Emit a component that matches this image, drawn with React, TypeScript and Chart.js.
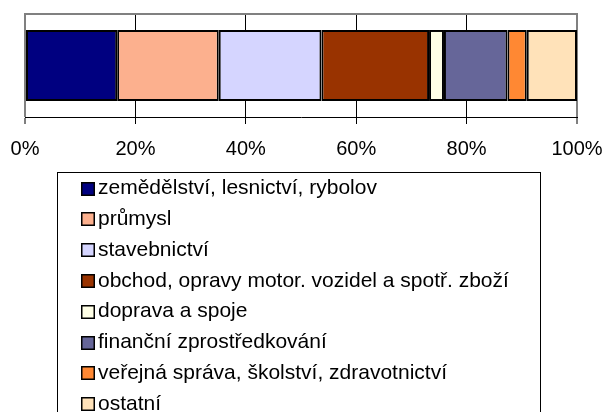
import React, { useEffect, useRef } from 'react';
import { Chart, registerables } from 'chart.js';

Chart.register(...registerables);

const categories = [''];
const seriesLabels = [
  'zemědělství, lesnictví, rybolov',
  'průmysl',
  'stavebnictví',
  'obchod, opravy motor. vozidel a spotř. zboží',
  'doprava a spoje',
  'finanční zprostředkování',
  'veřejná správa, školství, zdravotnictví',
  'ostatní',
];
const seriesValues = [16.7, 18.4, 18.6, 19.5, 2.7, 11.5, 3.5, 9.1];
const seriesColors = ['#000080', '#FCB08E', '#D5D5FF', '#993300', '#FFFFE6', '#666699', '#FF8833', '#FFE2B9'];
const tickStep = 20;
const tickMax = 100;

const FONT = '"Liberation Sans", Arial, sans-serif';

const boxLegend = {
  id: 'boxLegend',
  afterDraw(chart: any) {
    const ctx = chart.ctx;
    ctx.save();
    ctx.strokeStyle = '#000';
    ctx.lineWidth = 1;
    ctx.strokeRect(57.5, 172.5, 483, 270);
    ctx.font = `21px ${FONT}`;
    ctx.textBaseline = 'middle';
    ctx.textAlign = 'left';
    chart.data.datasets.forEach((ds: any, i: number) => {
      const y = 188.5 + i * 30.8;
      const top = Math.round(y - 7);
      ctx.fillStyle = ds.backgroundColor;
      ctx.fillRect(81, top, 14, 14);
      ctx.strokeStyle = '#000';
      ctx.lineWidth = 1.5;
      ctx.strokeRect(81.75, top + 0.75, 12.5, 12.5);
      ctx.fillStyle = '#000';
      ctx.fillText(ds.label, 98, y);
    });
    ctx.restore();
  },
};

export default function App() {
  const ref = useRef<HTMLCanvasElement>(null);
  useEffect(() => {
    document.body.style.margin = '0';
    const chart = new Chart(ref.current!, {
      type: 'bar',
      data: {
        labels: categories,
        datasets: seriesLabels.map((label, i) => ({
          label,
          data: [seriesValues[i]],
          backgroundColor: seriesColors[i],
          borderColor: '#000',
          borderWidth: 2,
          borderSkipped: false,
          categoryPercentage: 1,
          barPercentage: 0.69,
        })),
      },
      options: {
        indexAxis: 'y',
        responsive: false,
        animation: false,
        devicePixelRatio: 1,
        layout: { padding: { left: 25, right: 27, top: 14, bottom: 251 } },
        plugins: { legend: { display: false }, tooltip: { enabled: false } },
        scales: {
          x: {
            stacked: true,
            min: 0,
            max: tickMax,
            afterFit: (s: any) => {
              s.height = 44;
              s.paddingLeft = 0;
              s.paddingRight = 0;
            },
            ticks: {
              stepSize: tickStep,
              color: '#000',
              padding: 13,
              maxRotation: 0,
              font: { family: FONT, size: 20 },
              callback: (v: any) => v + '%',
            },
            grid: {
              color: (c: any) => (c.index === 0 || c.index === 5 ? '#808080' : '#000'),
              lineWidth: (c: any) => (c.index === 0 || c.index === 5 ? 2 : 1),
              tickColor: '#000',
              tickWidth: 1,
              tickLength: 7,
            },
            border: { display: true, color: '#000', width: 1 },
          },
          x2: {
            position: 'top',
            axis: 'x',
            min: 0,
            max: tickMax,
            afterFit: (s: any) => {
              s.height = 0;
              s.paddingLeft = 0;
              s.paddingRight = 0;
            },
            ticks: { display: false },
            grid: { display: false, drawTicks: false },
            border: { display: true, color: '#808080', width: 2 },
          },
          y: {
            stacked: true,
            display: false,
          },
        },
      },
      plugins: [boxLegend],
    } as any);
    return () => chart.destroy();
  }, []);
  return <canvas ref={ref} width={604} height={412} />;
}
